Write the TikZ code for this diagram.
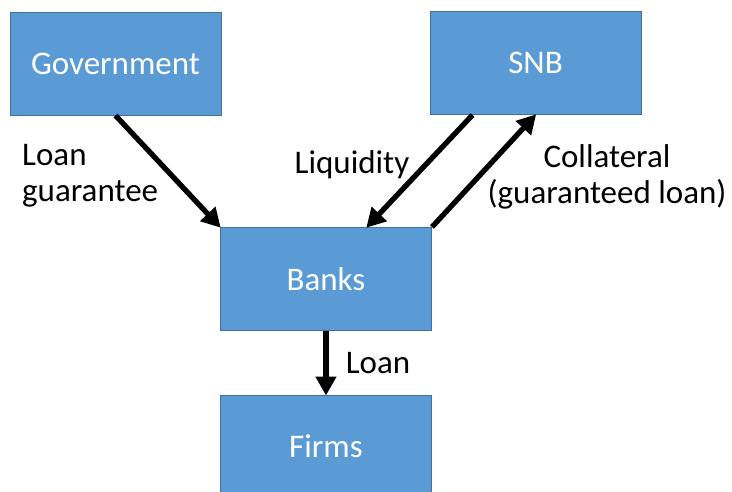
\documentclass[tikz,border=0pt]{standalone}
\usepackage{fontspec}
\setmainfont{Carlito}
\usepackage{tikz}
\usetikzlibrary{calc, arrows.meta, positioning}
\definecolor{boxblue}{RGB}{91,155,213}
\definecolor{boxedge}{RGB}{65,113,156}
\tikzset{
	actor/.style={draw=boxedge, line width=1pt, fill=boxblue, text=white,
		minimum width=211pt, minimum height=103pt, inner sep=0pt,
		font=\fontsize{33}{36}\selectfont}
}
\tikzset{
	flowlabel/.style={font=\fontsize{33}{36}\selectfont, inner sep=0pt}
}
\tikzset{
	flow/.style={line width=5.3pt, -{Triangle[length=19pt, width=20pt]}, shorten >=-1pt}
}

\begin{document}
\begin{tikzpicture}[x=1pt, y=-1pt]
      \useasboundingbox (0,0) rectangle (732,491);
      \clip (0,0) rectangle (732,491);
      \node[actor] (gov) at (115.5,63.5) {Government};
      \node[actor] (snb) at (535.5,63) {SNB};
      \node[actor] (banks) at (326,279) {Banks};
      \node[actor] (firms) at (326,446.5) {Firms};
      \draw[flow] (gov.south) -- (banks.north west);
      \draw[flow] ($(snb.south)+(-63,0)$) -- ($(banks.north)+(41,0)$);
      \draw[flow] (banks.north east) -- (snb.south);
      \draw[flow] (banks.south) -- (firms.north);
      % labels
      \node[flowlabel, anchor=west, align=left] (lguar) at (22,176) {Loan\\guarantee};
      \node[flowlabel] (lliq) at (352,165) {Liquidity};
      \node[flowlabel, align=center] (lcoll) at (607,177) {Collateral\\(guaranteed loan)};
      \node[flowlabel] (lloan) at (378,363) {Loan};
    \end{tikzpicture}
\end{document}
